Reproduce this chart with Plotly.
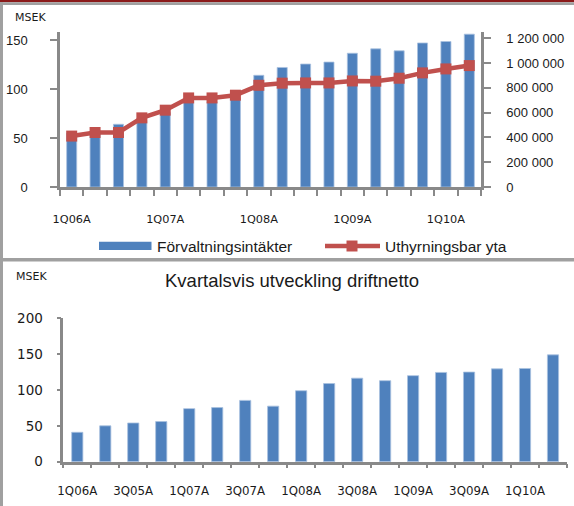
import plotly.graph_objects as go

# ---------------- data ----------------
top_categories = ["1Q06A", "2Q06A", "3Q06A", "4Q06A", "1Q07A", "2Q07A", "3Q07A", "4Q07A",
                  "1Q08A", "2Q08A", "3Q08A", "4Q08A", "1Q09A", "2Q09A", "3Q09A", "4Q09A",
                  "1Q10A", "2Q10A"]
forvaltningsintakter = [55, 57, 64, 68, 76, 88, 87, 91, 114, 122, 125.5, 127.5,
                        136.5, 141, 139, 147, 148.5, 156]
uthyrningsbar_yta = [411000, 440000, 440000, 558000, 620000, 719000, 719000, 741000,
                     821000, 838000, 840000, 840000, 856000, 854000, 878000, 921000,
                     953000, 980000]

bottom_categories = ["1Q06A", "2Q06A", "3Q05A", "4Q06A", "1Q07A", "2Q07A", "3Q07A", "4Q07A",
                     "1Q08A", "2Q08A", "3Q08A", "4Q08A", "1Q09A", "2Q09A", "3Q09A", "4Q09A",
                     "1Q10A", "2Q10A"]
driftnetto = [41, 50, 54, 56, 74, 75.5, 85.5, 77.5, 99, 109, 116.5, 113,
              120, 124.5, 125, 129.5, 130, 149]

left_ticks_top = [0, 50, 100, 150]
right_ticks_top = [0, 200000, 400000, 600000, 800000, 1000000, 1200000]
right_ticktext = ["0", "200 000", "400 000", "600 000", "800 000", "1 000 000", "1 200 000"]
left_ticks_bottom = [0, 50, 100, 150, 200]

title_text = "Kvartalsvis utveckling driftnetto"
unit_text = "MSEK"
name_bar = "Förvaltningsintäkter"
name_line = "Uthyrningsbar yta"

# ---------------- styling ----------------
W, H = 574, 506
BLUE = "#4F81BD"
RED = "#C0504D"
AXIS = "#898989"
TXT = "#1a1a1a"


def px(x):
    return x / W


def py(y):
    return 1 - y / H


n_top = len(top_categories)
n_bot = len(bottom_categories)
xt = list(range(n_top))
xb = list(range(n_bot))

fig = go.Figure()
fig.add_trace(go.Bar(x=xt, y=forvaltningsintakter, name=name_bar, width=0.43,
                     marker=dict(color=BLUE, line=dict(color="#A9C1E0", width=0.8)),
                     xaxis="x", yaxis="y", showlegend=False))
fig.add_trace(go.Scatter(x=xt, y=uthyrningsbar_yta, name=name_line, mode="lines+markers",
                         line=dict(color=RED, width=4.5),
                         marker=dict(symbol="square", size=11, color=RED),
                         xaxis="x", yaxis="y2", showlegend=False))
fig.add_trace(go.Bar(x=xb, y=driftnetto, name="Driftnetto", width=0.4,
                     marker=dict(color=BLUE, line=dict(color="#A9C1E0", width=0.8)),
                     xaxis="x2", yaxis="y3", showlegend=False))

tick_font_small = dict(family="DejaVu Sans", size=11.3, color=TXT)

fig.update_layout(
    width=W, height=H,
    margin=dict(l=0, r=0, t=0, b=0, autoexpand=False),
    paper_bgcolor="white", plot_bgcolor="white",
    bargap=0.5,
    xaxis=dict(domain=[px(60), px(481)], anchor="y", range=[-0.5, n_top - 0.5], automargin=False,
               showline=True, linecolor=AXIS, linewidth=2.5, showgrid=False, zeroline=False,
               tickmode="array", tickvals=xt[::4], ticktext=top_categories[::4],
               ticks="", ticklabelstandoff=20, tickfont=tick_font_small,
               minor=dict(tickmode="array", tickvals=[i - 0.5 for i in range(n_top + 1)],
                          ticks="outside", ticklen=6, tickwidth=2, tickcolor=AXIS,
                          showgrid=False)),
    yaxis=dict(domain=[py(187), py(32)], anchor="x", range=[0, 158.2], automargin=False,
               showline=True, linecolor=AXIS, linewidth=2.5, showgrid=False, zeroline=False,
               tickmode="array", tickvals=left_ticks_top, ticks="outside", ticklen=7,
               tickwidth=2, tickcolor=AXIS, ticklabelstandoff=20,
               tickfont=dict(family="Liberation Sans", size=13, color=TXT)),
    yaxis2=dict(overlaying="y", anchor="x", side="right", range=[0, 1251000], automargin=False,
                showline=True, linecolor=AXIS, linewidth=2.5, showgrid=False, zeroline=False,
                tickmode="array", tickvals=right_ticks_top, ticktext=right_ticktext,
                ticks="outside", ticklen=7, tickwidth=2, tickcolor=AXIS, ticklabelstandoff=13,
                tickfont=dict(family="Liberation Sans", size=13, color=TXT)),
    xaxis2=dict(domain=[px(63.3), px(567)], anchor="y3", range=[-0.5, n_bot - 0.5], automargin=False,
                showline=True, linecolor=AXIS, linewidth=2.5, showgrid=False, zeroline=False,
                tickmode="array", tickvals=xb[::2], ticktext=bottom_categories[::2],
                ticks="", ticklabelstandoff=16,
                tickfont=dict(family="DejaVu Sans", size=11.8, color=TXT),
                minor=dict(tickmode="array", tickvals=[i - 0.5 for i in range(n_bot + 1)],
                           ticks="outside", ticklen=4, tickwidth=2, tickcolor=AXIS,
                           showgrid=False)),
    yaxis3=dict(domain=[py(461.7), py(318.3)], anchor="x2", range=[0, 200], automargin=False,
                showline=True, linecolor=AXIS, linewidth=2.5, showgrid=False, zeroline=False,
                tickmode="array", tickvals=left_ticks_bottom, ticks="outside", ticklen=4,
                tickwidth=2, tickcolor=AXIS, ticklabelstandoff=11,
                tickfont=dict(family="DejaVu Sans", size=13.5, color=TXT)),
)

shapes = [
    # top dark red rule and grey rule
    dict(type="rect", xref="paper", yref="paper", x0=0, x1=1, y0=py(2.3), y1=py(0),
         fillcolor="#8B1A1A", line=dict(width=0), layer="above"),
    dict(type="rect", xref="paper", yref="paper", x0=0, x1=1, y0=py(5), y1=py(2.3),
         fillcolor="#A0A0A0", line=dict(width=0), layer="above"),
    # left frame
    dict(type="rect", xref="paper", yref="paper", x0=0, x1=px(3), y0=0, y1=py(2.3),
         fillcolor="#A0A0A0", line=dict(width=0), layer="above"),
    # separator between panels
    dict(type="rect", xref="paper", yref="paper", x0=0, x1=1, y0=py(261.5), y1=py(258),
         fillcolor="#A0A0A0", line=dict(width=0), layer="above"),
    # legend: bar swatch
    dict(type="rect", xref="paper", yref="paper", x0=px(99), x1=px(151.5), y0=py(250), y1=py(241.8),
         fillcolor=BLUE, line=dict(width=0)),
    # legend: line + marker
    dict(type="line", xref="paper", yref="paper", x0=px(325), x1=px(380), y0=py(246), y1=py(246),
         line=dict(color=RED, width=4.5)),
    dict(type="rect", xref="paper", yref="paper", x0=px(346.5), x1=px(357.5), y0=py(251.5), y1=py(240.5),
         fillcolor=RED, line=dict(width=0)),
]

annotations = [
    dict(text=unit_text, xref="paper", yref="paper", x=px(12.5), y=py(17.5),
         xanchor="left", yanchor="middle", showarrow=False,
         font=dict(family="DejaVu Sans", size=11, color=TXT)),
    dict(text=unit_text, xref="paper", yref="paper", x=px(14), y=py(276),
         xanchor="left", yanchor="middle", showarrow=False,
         font=dict(family="DejaVu Sans", size=11, color=TXT)),
    dict(text=title_text, xref="paper", yref="paper", x=px(291.5), y=py(280),
         xanchor="center", yanchor="middle", showarrow=False,
         font=dict(family="Liberation Sans", size=18.5, color=TXT)),
    dict(text=name_bar, xref="paper", yref="paper", x=px(155), y=py(246),
         xanchor="left", yanchor="middle", showarrow=False,
         font=dict(family="Liberation Sans", size=15.5, color=TXT)),
    dict(text=name_line, xref="paper", yref="paper", x=px(383), y=py(246),
         xanchor="left", yanchor="middle", showarrow=False,
         font=dict(family="Liberation Sans", size=15.5, color=TXT)),
]

fig.update_layout(shapes=shapes, annotations=annotations)

fig.write_html("out.html", config={"displayModeBar": False},
               post_script="document.body.style.margin='0';document.body.style.overflow='hidden';")
